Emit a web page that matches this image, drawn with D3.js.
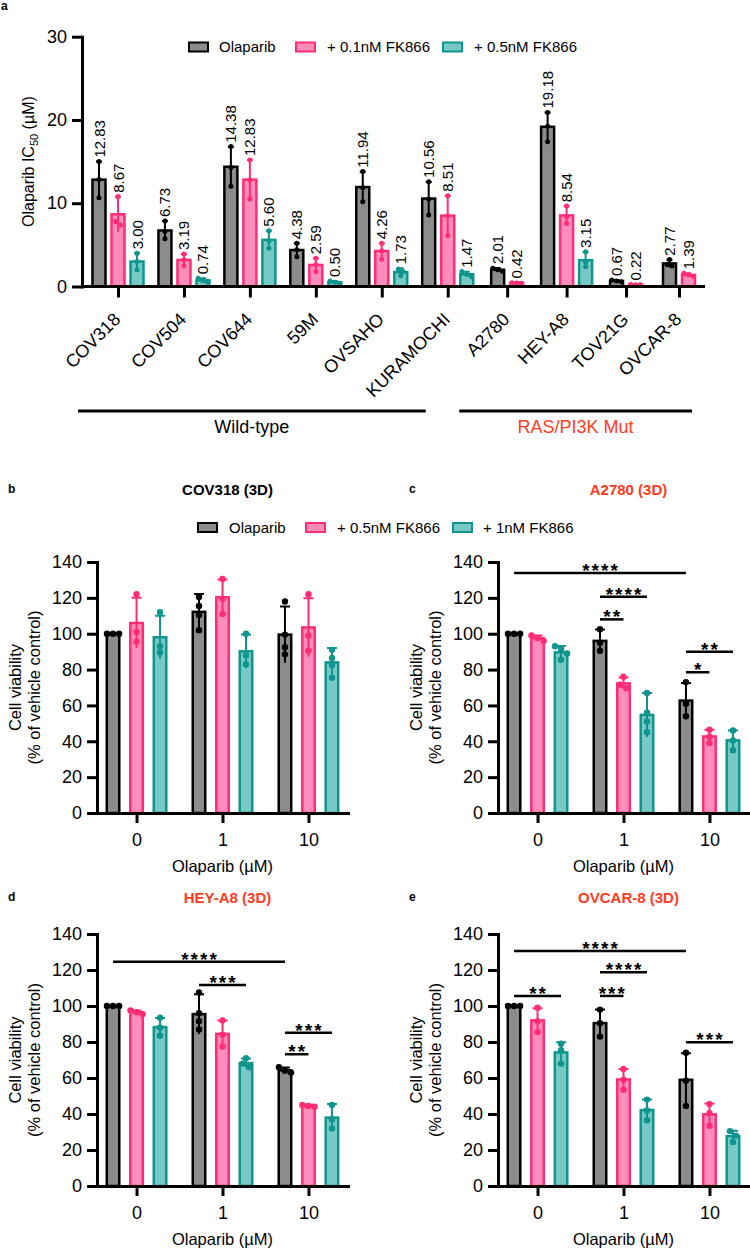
<!DOCTYPE html>
<html lang="en">
<head>
<meta charset="UTF-8">
<title>Olaparib IC50 and 3D viability with FK866</title>
<style>
  body { margin: 0; background: #fff; }
  svg { display: block; font-family: "Liberation Sans", Arial, Helvetica, sans-serif; }
  .axis path, .axis line { stroke: #000; stroke-width: 3; }
  .axis .domain { stroke-linecap: square; }
  .axis text { font-size: 18px; fill: #000; font-family: "Liberation Sans", Arial, sans-serif; }
</style>
<script src="https://cdn.jsdelivr.net/npm/d3@7"></script>
</head>
<body>
<svg id="fig" width="750" height="1249"></svg>
<script>
// ---------- data: panel a (IC50, uM) ----------
const cellLines = ["COV318", "COV504", "COV644", "59M", "OVSAHO", "KURAMOCHI", "A2780", "HEY-A8", "TOV21G", "OVCAR-8"];
const seriesA = ["Olaparib", "+ 0.1nM FK866", "+ 0.5nM FK866"];
const genotypes = ["Wild-type", "RAS/PI3K Mut"];
const genotypeSizes = [6, 4];

const ic50Ola  = [12.83, 6.73, 14.38, 4.38, 11.94, 10.56, 2.01, 19.18, 0.67, 2.77];
const ic50Low  = [8.67, 3.19, 12.83, 2.59, 4.26, 8.51, 0.42, 8.54, 0.22, 1.39];
const ic50High = [3.00, 0.74, 5.60, 0.50, 1.73, 1.47, null, 3.15, null, null];
const sdOla  = [2.17, 1.13, 2.4, 0.8, 1.84, 2.0, 0.2, 1.72, 0.1, 0.45];
const sdLow  = [2.1, 0.7, 2.36, 0.79, 0.92, 2.4, 0.05, 1.1, 0.02, 0.2];
const sdHigh = [0.98, 0.25, 1.1, 0.15, 0.45, 0.3, null, 1.0, null, null];
const ptsOla  = [[15.0, 12.85, 10.65], [7.86, 6.6, 5.73], [16.8, 14.3, 12.05], [5.18, 4.4, 3.56], [13.8, 11.85, 10.17],
                 [12.58, 10.52, 8.58], [2.2, 2.0, 1.83], [20.9, 19.26, 17.38], [0.78, 0.65, 0.58], [3.25, 2.6, 2.46]];
const ptsLow  = [[10.8, 7.8, 7.4], [3.9, 3.2, 2.47], [15.2, 12.8, 10.5], [3.38, 2.6, 1.8], [5.2, 4.3, 3.28],
                 [10.9, 8.5, 6.13], [0.45, 0.42, 0.39], [9.66, 8.38, 7.58], [0.24, 0.22, 0.2], [1.6, 1.38, 1.19]];
const ptsHigh = [[3.98, 3.0, 2.0], [1.0, 0.7, 0.52], [6.7, 5.5, 4.6], [0.65, 0.5, 0.35], [2.1, 1.8, 1.3],
                 [1.8, 1.45, 1.16], null, [4.18, 2.9, 2.38], null, null];
const yTicksA = [0, 10, 20, 30];

// ---------- data: panels b-e (cell viability, % of vehicle) ----------
const doses = ["0", "1", "10"];
const seriesB = ["Olaparib", "+ 0.5nM FK866", "+ 1nM FK866"];
const yTicksB = [0, 20, 40, 60, 80, 100, 120, 140];

// rows: Olaparib, +0.5nM, +1nM ; columns: doses
const cov318Mean = [[100, 112.2, 99.5], [106, 120.3, 103.5], [98, 90.2, 84]];
const cov318Sd   = [[0, 10, 15.7], [14, 10, 16.3], [12, 9.3, 8]];
const cov318Pts  = [[[100, 100, 100], [120.5, 115.5, 110.5, 102], [118, 99.5, 92.5, 88.5]],
                    [[122, 101, 95.5], [130.5, 119.5, 111], [122, 99, 90.5]],
                    [[112, 93, 89.5], [100, 88, 83], [91, 86.5, 82.5, 75.5]]];

const a2780Mean = [[100, 96, 62.7], [97.5, 72.3, 42.7], [89.6, 54.7, 40.5]];
const a2780Sd   = [[0, 6.4, 9.8], [1.5, 3.3, 3.8], [3.5, 12.2, 5.5]];
const a2780Pts  = [[[100, 100, 100], [102.5, 95, 90.5], [73, 61, 54]],
                   [[99, 97.5, 96], [76, 71.5, 69.5], [46.5, 42.5, 39]],
                   [[93, 91.5, 89, 85.5], [67, 56, 51, 45], [46, 40.5, 35]]];
const a2780Sig  = [[0, 0, 2, 0, 133.9, "****"], [1, 0, 1, 2, 120.6, "****"], [1, 0, 1, 1, 108, "**"],
                   [2, 0, 2, 2, 90, "**"], [2, 0, 2, 1, 78.5, "*"]];

const heyA8Mean = [[100, 95.5, 64.3], [96.5, 84.5, 44.5], [88.3, 68.3, 38]];
const heyA8Sd   = [[0, 11, 1.5], [1, 7.5, 0.6], [5, 2.5, 7.5]];
const heyA8Pts  = [[[100, 100, 100], [107.5, 96, 91.5, 87], [66, 64, 63]],
                   [[97.5, 96.5, 95.5], [92, 84, 77.5], [45, 44.5, 44]],
                   [[93.5, 88, 83.5], [71, 68, 66], [45, 37, 32]]];
const heyA8Sig  = [[0, 0, 2, 0, 124.6, "****"], [1, 0, 1, 2, 111.7, "***"], [2, 0, 2, 2, 85.2, "***"],
                   [2, 0, 2, 1, 73.2, "**"]];

const ovcar8Mean = [[100, 90.5, 59], [92, 59.2, 39.8], [74.2, 42.2, 27.7]];
const ovcar8Sd   = [[0, 7.5, 14.8], [6.8, 5.8, 6], [5.6, 5.8, 3]];
const ovcar8Pts  = [[[100, 100, 100], [98, 90.5, 83], [74, 58.5, 44.5]],
                    [[99, 91.5, 85.5], [65, 59, 53.5], [45.5, 40.5, 33.5]],
                    [[79, 75.5, 68], [48, 42, 36.5], [30.5, 28, 24.5]]];
const ovcar8Sig  = [[0, 0, 2, 0, 130.6, "****"], [1, 0, 1, 2, 118.7, "****"], [1, 0, 1, 1, 105.6, "***"],
                    [0, 0, 0, 2, 105.6, "**"], [2, 0, 2, 2, 79.8, "***"]];

// ---------- styles ----------
const fills   = ["#8c8c8c", "#ff8dbb", "#76c9c5"];
const strokes = ["#000000", "#ff2d78", "#0f948e"];
const red = "#ff3b1e";

const svg = d3.select("#fig");

// spread points with (almost) equal values sideways, like GraphPad does
function spreadPoints(values, y, r) {
  const s = values.map(v => ({ v, py: y(v) })).sort((a, b) => a.py - b.py);
  const clusters = [];
  s.forEach(p => {
    const last = clusters[clusters.length - 1];
    if (last && p.py - last[last.length - 1].py < r * 1.6) last.push(p);
    else clusters.push([p]);
  });
  const out = [];
  clusters.forEach(c => c.forEach((p, k) => out.push({ py: p.py, dx: (k - (c.length - 1) / 2) * r * 1.9 })));
  return out;
}

function drawBars(g, bars, y, o) {
  g.selectAll(null).data(bars).join("rect")
    .attr("x", d => d.cx - o.bw / 2).attr("width", o.bw)
    .attr("y", d => y(d.mean)).attr("height", d => y(0) - y(d.mean))
    .attr("fill", d => fills[d.s]).attr("stroke", d => strokes[d.s]).attr("stroke-width", 2.5);

  g.selectAll(null).data(bars.filter(d => d.sd > 0)).join("path")
    .attr("d", d => `M${d.cx},${y(d.mean - d.sd)}V${y(d.mean + d.sd)}M${d.cx - o.cap / 2},${y(d.mean + d.sd)}H${d.cx + o.cap / 2}`)
    .attr("fill", "none").attr("stroke", d => strokes[d.s]).attr("stroke-width", 2);

  bars.forEach(d => {
    g.selectAll(null).data(spreadPoints(d.pts, y, o.r)).join("circle")
      .attr("cx", p => d.cx + p.dx).attr("cy", p => p.py).attr("r", o.r)
      .attr("fill", strokes[d.s]);
  });
}

function legend(g, names, x0, textX, yc) {
  names.forEach((n, i) => {
    g.append("rect").attr("x", x0[i] + 1).attr("y", yc - 4.5).attr("width", 19).attr("height", 9)
      .attr("fill", fills[i]).attr("stroke", strokes[i]).attr("stroke-width", 2);
    g.append("text").attr("x", textX[i]).attr("y", yc + 5.3).attr("font-size", 15).text(n);
  });
}

// ---------- panel a ----------
const ga = svg.append("g");
const ic50 = [ic50Ola, ic50Low, ic50High];
const sdA = [sdOla, sdLow, sdHigh];
const ptsA = [ptsOla, ptsLow, ptsHigh];

const nBars = cellLines.map((c, i) => ic50.filter(s => s[i] != null).length);
const gapUnits = 27 / 13;
const unitPos = [];
nBars.forEach((n, i) => unitPos.push(i === 0 ? 0 : unitPos[i - 1] + (nBars[i - 1] + n) / 2 + gapUnits));

const xA = d3.scaleLinear().domain([0, unitPos[unitPos.length - 1]]).range([118, 679]);
const yA = d3.scaleLinear().domain([0, 30]).range([286.5, 36.7]);

const barsA = [];
cellLines.forEach((c, i) => {
  const present = [0, 1, 2].filter(s => ic50[s][i] != null);
  present.forEach((s, k) => barsA.push({
    s, mean: ic50[s][i], sd: sdA[s][i], pts: ptsA[s][i],
    cx: xA(unitPos[i]) + (k - (present.length - 1) / 2) * 19
  }));
});

drawBars(ga, barsA, yA, { bw: 13, cap: 6, r: 2.5 });

ga.selectAll(null).data(barsA).join("text")
  .attr("transform", d => `translate(${d.cx},${yA(d.mean + d.sd) - 4}) rotate(-90)`)
  .attr("dominant-baseline", "central").attr("font-size", 15)
  .text(d => d.mean.toFixed(2));

ga.append("g").attr("class", "axis").attr("transform", "translate(82,0)")
  .call(d3.axisLeft(yA).tickValues(yTicksA).tickSize(10).tickPadding(5).tickSizeOuter(0));

const xAxisA = ga.append("g").attr("class", "axis").attr("transform", `translate(0,${yA(0)})`)
  .call(d3.axisBottom(xA).tickValues(unitPos).tickSize(11).tickFormat((d, i) => cellLines[i]));
xAxisA.select(".domain").remove();
xAxisA.append("line").attr("x1", 82).attr("x2", 705).attr("stroke", "#000").attr("stroke-width", 3);
xAxisA.selectAll(".tick text")
  .attr("x", 0).attr("y", 0).attr("dy", 0).attr("text-anchor", "end")
  .attr("transform", "translate(3,34) rotate(-45)");

ga.append("text")
  .attr("transform", `translate(34,${(yA(0) + yA(30)) / 2}) rotate(-90)`)
  .attr("text-anchor", "middle").attr("font-size", 16)
  .call(t => {
    t.append("tspan").text("Olaparib IC");
    t.append("tspan").attr("font-size", 11).attr("dy", 4).text("50");
    t.append("tspan").attr("dy", -4).text(" (µM)");
  });

// genotype brackets
let start = 0;
const bracketPad = [[-40, -22], [-48, 13]];
genotypes.forEach((name, k) => {
  const x1 = xA(unitPos[start]) + bracketPad[k][0];
  const x2 = xA(unitPos[start + genotypeSizes[k] - 1]) + bracketPad[k][1];
  ga.append("line").attr("x1", x1).attr("x2", x2).attr("y1", 411).attr("y2", 411)
    .attr("stroke", "#000").attr("stroke-width", 3);
  ga.append("text").attr("x", (x1 + x2) / 2).attr("y", 433).attr("text-anchor", "middle")
    .attr("font-size", 18).attr("fill", k === 0 ? "#000" : red).text(name);
  start += genotypeSizes[k];
});

legend(ga, seriesA, [188, 295, 442], [219, 327, 474], 47);
ga.append("text").attr("x", 1).attr("y", 10).attr("font-size", 12).attr("font-weight", "bold").text("a");

// ---------- panels b-e ----------
function drawPanel(p) {
  const g = svg.append("g");
  const x = d3.scalePoint().domain(doses).range(p.xr).padding(0.46);
  const off = d3.scalePoint().domain([0, 1, 2]).range([-23.5, 23.5]);
  const y = d3.scaleLinear().domain([0, 140]).range(p.yr);

  const bars = [];
  p.means.forEach((row, s) => row.forEach((m, j) => bars.push({
    s, mean: m, sd: p.sds[s][j], pts: p.pts[s][j], cx: x(doses[j]) + off(s)
  })));
  drawBars(g, bars, y, { bw: 12.5, cap: 10, r: 3.2 });

  const sig = g.selectAll(null).data(p.sig).join("g");
  sig.append("line")
    .attr("x1", d => x(doses[d[0]]) + off(d[1])).attr("x2", d => x(doses[d[2]]) + off(d[3]))
    .attr("y1", d => y(d[4])).attr("y2", d => y(d[4]))
    .attr("stroke", "#000").attr("stroke-width", 2.5);
  sig.append("text")
    .attr("x", d => (x(doses[d[0]]) + off(d[1]) + x(doses[d[2]]) + off(d[3])) / 2 + 1)
    .attr("y", d => y(d[4]) + 4).attr("text-anchor", "middle")
    .attr("font-size", 19).attr("font-weight", "bold").attr("letter-spacing", 2).text(d => d[5]);

  g.append("g").attr("class", "axis").attr("transform", `translate(${p.xr[0]},0)`)
    .call(d3.axisLeft(y).tickValues(yTicksB).tickSize(10).tickPadding(5).tickSizeOuter(0));
  g.append("g").attr("class", "axis").attr("transform", `translate(0,${y(0)})`)
    .call(d3.axisBottom(x).tickSize(10).tickPadding(10).tickSizeOuter(0));

  const ym = (p.yr[0] + p.yr[1]) / 2;
  g.append("text").attr("transform", `translate(${p.xr[0] - 76},${ym}) rotate(-90)`)
    .attr("text-anchor", "middle").attr("font-size", 16.5).text("Cell viability");
  g.append("text").attr("transform", `translate(${p.xr[0] - 57.5},${ym}) rotate(-90)`)
    .attr("text-anchor", "middle").attr("font-size", 16.5).text("(% of vehicle control)");
  g.append("text").attr("x", (p.xr[0] + p.xr[1]) / 2).attr("y", p.yr[0] + 58.5)
    .attr("text-anchor", "middle").attr("font-size", 16.5).text("Olaparib (µM)");

  g.append("text").attr("x", (p.xr[0] + p.xr[1]) / 2 + 5).attr("y", p.titleY)
    .attr("text-anchor", "middle").attr("font-size", 15).attr("font-weight", "bold")
    .attr("fill", p.color).text(p.title);
  g.append("text").attr("x", p.xr[0] - 89).attr("y", p.titleY - 2)
    .attr("font-size", 12).attr("font-weight", "bold").text(p.letter);
  return g;
}

const gb = drawPanel({ letter: "b", title: "COV318 (3D)", color: "#000", xr: [97, 348], yr: [813, 562], titleY: 495,
  means: cov318Mean, sds: cov318Sd, pts: cov318Pts, sig: [] });
drawPanel({ letter: "c", title: "A2780 (3D)", color: red, xr: [498, 749], yr: [813, 562], titleY: 495,
  means: a2780Mean, sds: a2780Sd, pts: a2780Pts, sig: a2780Sig });
drawPanel({ letter: "d", title: "HEY-A8 (3D)", color: red, xr: [97, 348], yr: [1186, 934], titleY: 903,
  means: heyA8Mean, sds: heyA8Sd, pts: heyA8Pts, sig: heyA8Sig });
drawPanel({ letter: "e", title: "OVCAR-8 (3D)", color: red, xr: [498, 749], yr: [1186, 934], titleY: 903,
  means: ovcar8Mean, sds: ovcar8Sd, pts: ovcar8Pts, sig: ovcar8Sig });

legend(gb, seriesB, [197, 305, 452], [229, 337, 483], 527.5);
</script>
</body>
</html>
